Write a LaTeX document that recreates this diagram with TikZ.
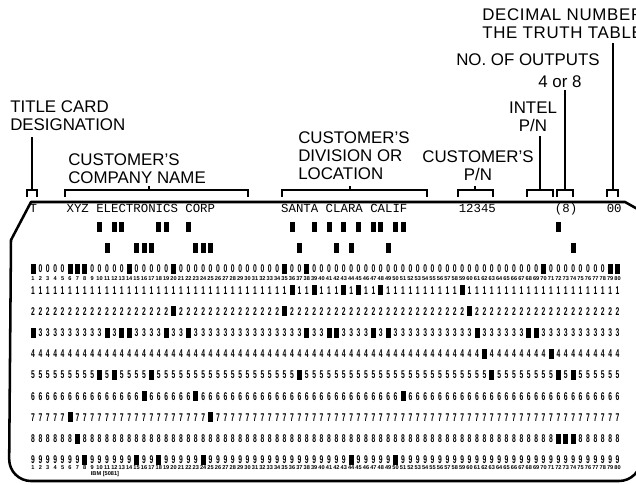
\documentclass[tikz,border=0pt]{standalone}
\usepackage{fontspec}
\setmainfont{Liberation Sans}
\newfontfamily\cardfont{Liberation Mono}
\usetikzlibrary{positioning}

\begin{document}
\begin{tikzpicture}[
        x=0.025cm, y=-0.025cm,
        % Style for the captions above the card
        captionText/.style={
            font=\fontsize{12}{12.8}\selectfont, inner sep=0pt
        },
        % Brackets over the card columns and their leader lines
        bracket/.style={draw, line width=0.9pt},
        leader/.style={draw, line width=0.9pt},
        % Outline of the card
        cardEdge/.style={draw, line width=1.8pt, line join=round},
        % Text printed along the top of the card
        printed/.style={
            font=\cardfont\fontsize{8.8}{9}\selectfont,
            inner sep=0pt, anchor=base west
        },
        % Digits of the punch rows
        digit/.style={font=\fontsize{8}{8}\selectfont\bfseries, xscale=0.6, inner sep=0pt},
        % Tiny column numbers
        colNum/.style={font=\fontsize{4}{4}\selectfont\bfseries, inner sep=0pt},
        hole/.style={fill=black}
    ]

        \useasboundingbox (0,0) rectangle (636,485);
        \clip (0,0) rectangle (636,485);

        % --- Captions ---
        \node[captionText, anchor=north west, align=left] (title) at (10,100.5) {TITLE CARD\\DESIGNATION};
        \node[captionText, anchor=north west, align=left] (company) at (68,153.5) {CUSTOMER'S\\COMPANY NAME};
        \node[captionText, anchor=north west, align=left] (division) at (298,131.5) {CUSTOMER'S\\DIVISION OR\\LOCATION};
        \node[captionText, anchor=north, align=center] (custPN) at (478,150.5) {CUSTOMER'S\\P/N};
        \node[captionText, anchor=north, align=center] (intel) at (533,101.5) {INTEL\\P/N};
        \node[captionText, anchor=north] (outputs) at (528,53.5) {NO. OF OUTPUTS};
        \node[captionText, anchor=north] (fourEight) at (560,75.5) {4 or 8};
        \node[captionText, anchor=north west, align=left,
              font=\fontsize{12}{12.8}\selectfont\addfontfeature{LetterSpace=4}] (decimal) at (482,8.5) {DECIMAL NUMBER\\THE TRUTH TABLE};

        % --- Brackets ---
        \coordinate (titleB) at (32,190);
        \coordinate (intelB) at (540,190);
        \coordinate (fourEightB) at (565,190);
        \coordinate (decimalB) at (613,190);

        \draw[bracket] (27,197) |- (37,190) -- (37,197);
        \draw[bracket] (65,197) |- (248,190) -- (248,197);
        \draw[bracket] (149,190) -- (149,186);
        \draw[bracket] (282,197) |- (427,190) -- (427,197);
        \draw[bracket] (350,190) -- (350,186);
        \draw[bracket] (458,197) |- (493,190) -- (493,197);
        \draw[bracket] (475,190) -- (475,186);
        \draw[bracket] (527,197) |- (553,190) -- (553,197);
        \draw[bracket] (557,197) |- (573,190) -- (573,197);
        \draw[bracket] (607,197) |- (618,190) -- (618,197);

        % --- Leaders ---
        \draw[leader] ([yshift=-0.15cm]title.south -| titleB) -- (titleB);
        \draw[leader] ([yshift=-0.1cm]intel.south -| intelB) -- (intelB);
        \draw[leader] ([yshift=-0.05cm]fourEight.south -| fourEightB) -- (fourEightB);
        \draw[leader] ([yshift=-0.1cm]decimal.south -| decimalB) -- (decimalB);

        % --- The card ---
        \draw[cardEdge] (641,211) -- (625,202) -- (31,202) -- (11,240)
            [rounded corners=0.55cm] -- (9,481) -- (641,481) -- (641,300);

        % Printed line
        \node[printed] (pTitle) at (29.3,212) {T};
        \node[printed] (pCompany) at ({25.6+7.4*6-3.7},212) {XYZ ELECTRONICS CORP};
        \node[printed] (pDivision) at ({25.6+7.4*35-3.7},212) {SANTA CLARA CALIF};
        \node[printed] (pCustPN) at ({25.6+7.4*59-3.7},212) {12345};
        \node[printed] (pOutputs) at ({25.6+7.4*72-3.7},212) {(8)};
        \node[printed] (pDecimal) at ({25.6+7.4*79-3.7},212) {00};

        % Punch rows 0 to 9
        \foreach \r in {0,...,9}
            \foreach \c in {1,...,80}
                \node[digit] (d\r-\c) at ({25.6+7.4*\c},{269+21.2*\r}) {\r};

        % Column numbers
        \foreach \c in {1,...,80} {
            \node[colNum] (top\c) at ({25.6+7.4*\c},279) {\c};
            \node[colNum] (bot\c) at ({25.6+7.4*\c},468) {\c};
        }
        \node[colNum] (maker) at (105,474) {IBM [5081]};

        % Punched holes, row by row
        \foreach \r/\cols in {
                12/{10,12,13,18,19,22,36,39,41,43,45,47,48,50,51,72},
                11/{11,15,16,17,23,24,25,37,42,44,49,74},
                0/{1,6,7,8,14,20,35,38,70,79,80},
                1/{36,39,43,45,48,59},
                2/{20,35,60},
                3/{1,11,13,14,19,22,38,41,42,47,49,61,68,69},
                4/{62,71},
                5/{10,12,17,37,63,72,74},
                6/{16,23,51},
                7/{6,25},
                8/{7,72,73,74},
                9/{8,15,18,24,44,50}} {
            \pgfmathsetmacro\rowy{\r>10 ? 269-21.2*(\r-10) : 269+21.2*\r}
            \foreach \c in \cols
                \fill[hole] ({23.1+7.4*\c},{\rowy-5}) rectangle ++(5,10);
        }

\end{tikzpicture}
\end{document}
